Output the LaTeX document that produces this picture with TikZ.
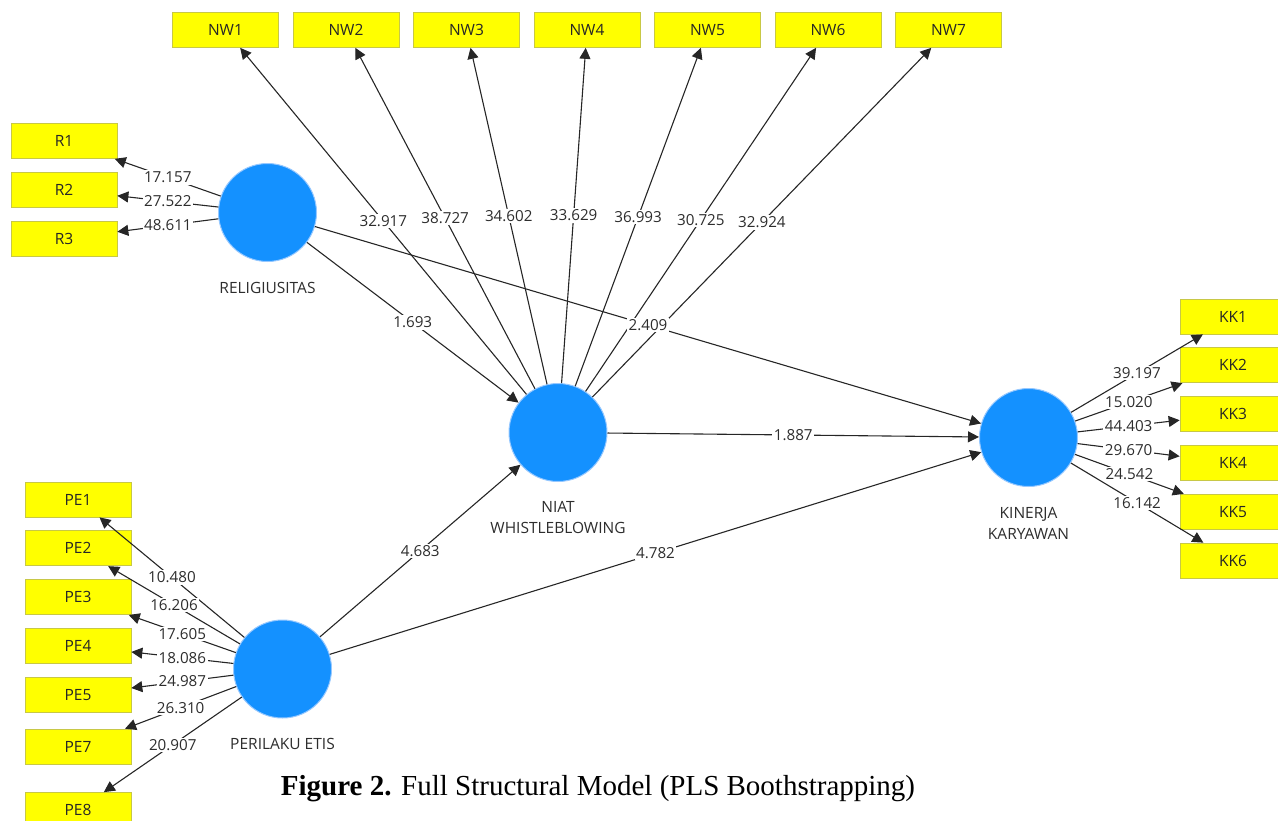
\documentclass[tikz,border=0pt]{standalone}
\usepackage{fontspec}
\setmainfont{Open Sans}
\newfontfamily\capfont{Liberation Serif}
\usepackage{xcolor}
\usepackage{tikz}
\usetikzlibrary{arrows.meta, positioning, calc}
\definecolor{lvblue}{RGB}{20,145,255}
\definecolor{lvring}{RGB}{150,200,255}
\definecolor{mvyellow}{RGB}{255,255,0}
\definecolor{mvedge}{RGB}{200,200,70}
\definecolor{txtgray}{RGB}{45,45,45}
\tikzset{
  latent/.style={circle, minimum size=98pt, inner sep=0pt, fill=lvblue, draw=lvring, line width=1pt},
  indicator/.style={rectangle, minimum width=106pt, minimum height=35pt, inner sep=0pt, fill=mvyellow, draw=mvedge, line width=0.7pt, text=black!85, font=\fontsize{15.5pt}{18pt}\selectfont},
  latname/.style={align=center, text=txtgray, font=\fontsize{15.5pt}{21.5pt}\selectfont},
  coef/.style={midway, fill=white, inner sep=1.5pt, text=txtgray, font=\fontsize{15.2pt}{18pt}\selectfont},
  arrow/.style={line width=1.1pt, draw=black!85, -{Triangle[length=11pt, width=11pt]}}
}

\begin{document}
\begin{tikzpicture}[x=1pt, y=-1pt, node distance=48.8pt]
        \useasboundingbox (0,0) rectangle (1278,820);

        % Latent variables
        \node (rel) [latent] at (267.5,212.5) {};
        \node (niat) [latent] at (558,432.5) {};
        \node (kin) [latent] at (1028.5,437.5) {};
        \node (pe) [latent] at (282.5,669) {};

        \node (rel_name) [latname] at (267.5,288) {RELIGIUSITAS};
        \node (niat_name) [latname] at (558,517.5) {NIAT\\WHISTLEBLOWING};
        \node (kin_name) [latname] at (1028.5,523.5) {KINERJA\\KARYAWAN};
        \node (pe_name) [latname] at (282.5,743.5) {PERILAKU ETIS};

        % Indicators: NIAT WHISTLEBLOWING
        \node (nw1) [indicator] at (225.5,30) {NW1};
        \node (nw2) [indicator, right of=nw1, xshift=71.7pt] {NW2};
        \node (nw3) [indicator, right of=nw2, xshift=71.7pt] {NW3};
        \node (nw4) [indicator, right of=nw3, xshift=71.7pt] {NW4};
        \node (nw5) [indicator, right of=nw4, xshift=71.7pt] {NW5};
        \node (nw6) [indicator, right of=nw5, xshift=71.7pt] {NW6};
        \node (nw7) [indicator, right of=nw6, xshift=71.7pt] {NW7};

        % Indicators: RELIGIUSITAS
        \node (r1) [indicator] at (64,141) {R1};
        \node (r2) [indicator, below of=r1] {R2};
        \node (r3) [indicator, below of=r2] {R3};

        % Indicators: PERILAKU ETIS
        \node (pe1) [indicator] at (78,499.5) {PE1};
        \node (pe2) [indicator, below of=pe1] {PE2};
        \node (pe3) [indicator, below of=pe2] {PE3};
        \node (pe4) [indicator, below of=pe3] {PE4};
        \node (pe5) [indicator, below of=pe4] {PE5};
        \node (pe7) [indicator, below of=pe5, yshift=-3pt] {PE7};
        \node (pe8) [indicator, below of=pe7, yshift=-14.7pt] {PE8};

        % Indicators: KINERJA KARYAWAN
        \node (kk1) [indicator] at (1233,316.5) {KK1};
        \node (kk2) [indicator, below of=kk1] {KK2};
        \node (kk3) [indicator, below of=kk2] {KK3};
        \node (kk4) [indicator, below of=kk3] {KK4};
        \node (kk5) [indicator, below of=kk4] {KK5};
        \node (kk6) [indicator, below of=kk5] {KK6};

        % Outer loadings
        \draw [arrow] (niat) -- node[coef] {32.917} (nw1);
        \draw [arrow] (niat) -- node[coef] {38.727} (nw2);
        \draw [arrow] (niat) -- node[coef] {34.602} (nw3);
        \draw [arrow] (niat) -- node[coef] {33.629} (nw4);
        \draw [arrow] (niat) -- node[coef] {36.993} (nw5);
        \draw [arrow] (niat) -- node[coef] {30.725} (nw6);
        \draw [arrow] (niat) -- node[coef] {32.924} (nw7);

        \draw [arrow] (rel) -- node[coef] {17.157} (r1);
        \draw [arrow] (rel) -- node[coef] {27.522} (r2);
        \draw [arrow] (rel) -- node[coef] {48.611} (r3);

        \draw [arrow] (pe) -- node[coef] {10.480} (pe1);
        \draw [arrow] (pe) -- node[coef] {16.206} (pe2);
        \draw [arrow] (pe) -- node[coef] {17.605} (pe3);
        \draw [arrow] (pe) -- node[coef] {18.086} (pe4);
        \draw [arrow] (pe) -- node[coef] {24.987} (pe5);
        \draw [arrow] (pe) -- node[coef] {26.310} (pe7);
        \draw [arrow] (pe) -- node[coef] {20.907} (pe8);

        \draw [arrow] (kin) -- node[coef] {39.197} (kk1);
        \draw [arrow] (kin) -- node[coef] {15.020} (kk2);
        \draw [arrow] (kin) -- node[coef] {44.403} (kk3);
        \draw [arrow] (kin) -- node[coef] {29.670} (kk4);
        \draw [arrow] (kin) -- node[coef] {24.542} (kk5);
        \draw [arrow] (kin) -- node[coef] {16.142} (kk6);

        % Inner model
        \draw [arrow] (rel) -- node[coef] {1.693} (niat);
        \draw [arrow] (rel) -- node[coef] {2.409} (kin);
        \draw [arrow] (niat) -- node[coef] {1.887} (kin);
        \draw [arrow] (pe) -- node[coef] {4.683} (niat);
        \draw [arrow] (pe) -- node[coef] {4.782} (kin);

        % Caption
        \node (caption) at (598,789) {\capfont\fontsize{29pt}{34pt}\selectfont\textbf{Figure 2.} Full Structural Model (PLS Boothstrapping)};
\end{tikzpicture}
\end{document}
